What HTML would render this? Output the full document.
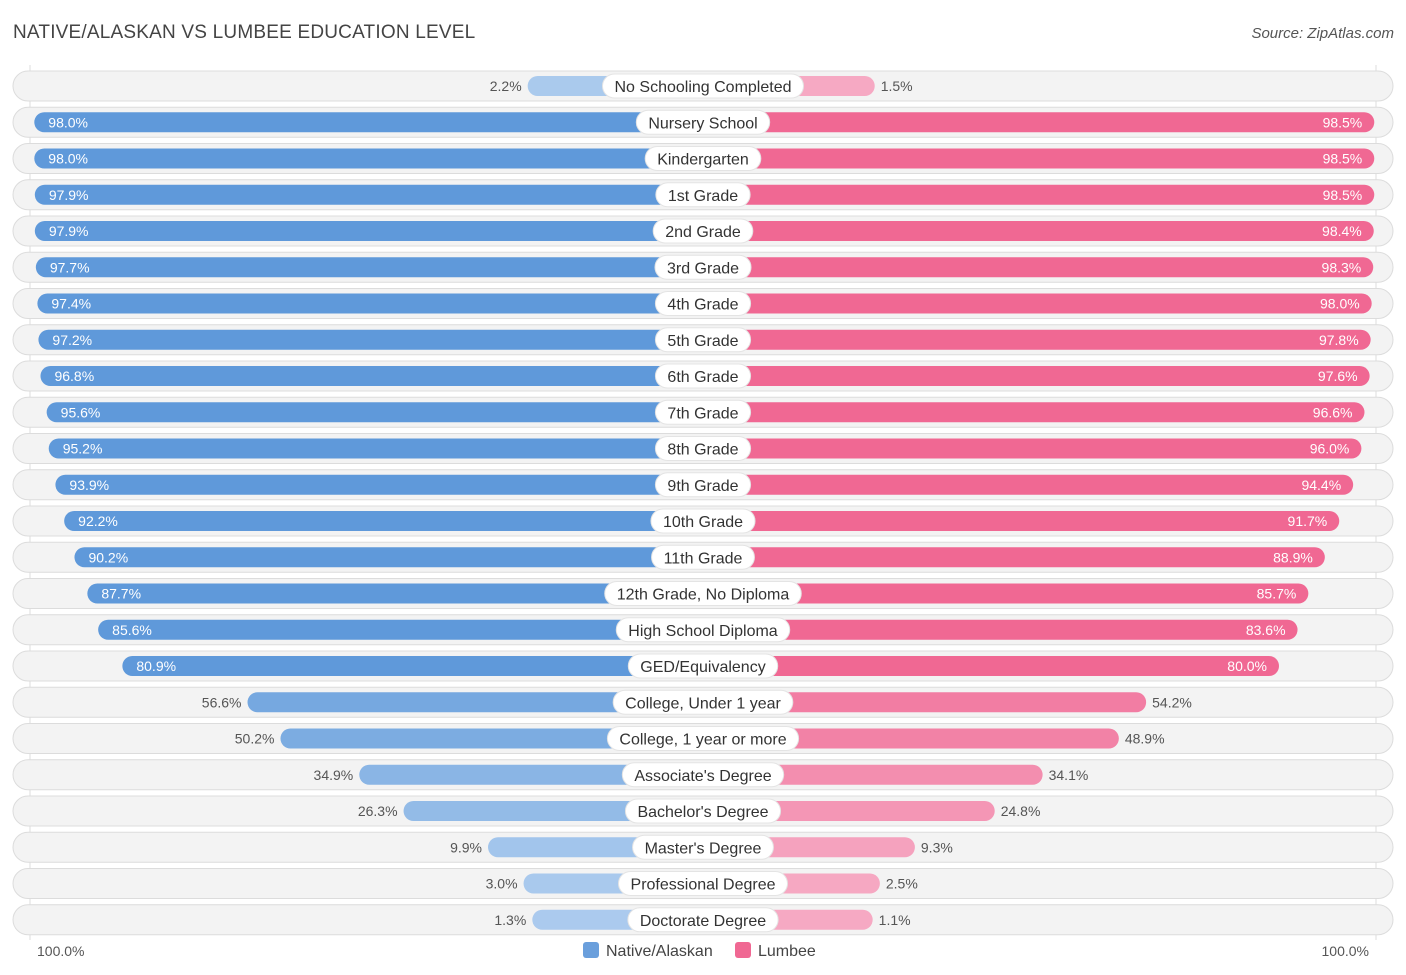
<!DOCTYPE html>
<html><head><meta charset="utf-8"><style>
body{margin:0;background:#fff;font-family:"Liberation Sans",sans-serif;}
#wrap{position:relative;width:1406px;height:975px;overflow:hidden}
.title{position:absolute;left:13px;top:22px;font-size:19px;color:#444;letter-spacing:0.2px}
.src{position:absolute;right:12px;top:25px;font-size:15px;color:#555;font-style:italic}
</style></head><body>
<div id="wrap">
<div class="title">NATIVE/ALASKAN VS LUMBEE EDUCATION LEVEL</div>
<div class="src">Source: ZipAtlas.com</div>
<svg id="svg" width="1406" height="975" style="position:absolute;left:0;top:0"></svg>
</div>
<script>
const categories=["No Schooling Completed","Nursery School","Kindergarten","1st Grade","2nd Grade","3rd Grade","4th Grade","5th Grade","6th Grade","7th Grade","8th Grade","9th Grade","10th Grade","11th Grade","12th Grade, No Diploma","High School Diploma","GED/Equivalency","College, Under 1 year","College, 1 year or more","Associate's Degree","Bachelor's Degree","Master's Degree","Professional Degree","Doctorate Degree"];
const nativeVals=[2.2,98.0,98.0,97.9,97.9,97.7,97.4,97.2,96.8,95.6,95.2,93.9,92.2,90.2,87.7,85.6,80.9,56.6,50.2,34.9,26.3,9.9,3.0,1.3];
const lumbeeVals=[1.5,98.5,98.5,98.5,98.4,98.3,98.0,97.8,97.6,96.6,96.0,94.4,91.7,88.9,85.7,83.6,80.0,54.2,48.9,34.1,24.8,9.3,2.5,1.1];
const axisLabels=["100.0%","100.0%"];
const NS="http://www.w3.org/2000/svg";
const svg=document.getElementById('svg');
const cx=703,off=164,k=5.15,y0=86,dy=36.25;
function xL(v){return cx-off-k*v;}
function xR(v){return cx+off+k*v;}
function yRow(i){return y0+i*dy;}
function mk(t,a,p){const e=document.createElementNS(NS,t);for(const q in a)e.setAttribute(q,a[q]);(p||svg).appendChild(e);return e;}
function mix(c1,c2,t){return 'rgb('+c1.map((c,j)=>Math.round(c+(c2[j]-c)*t)).join(',')+')';}
const bL=[172,203,238],bS=[95,153,218],pL=[246,170,196],pS=[240,104,147];
mk('line',{x1:30,y1:65,x2:30,y2:940,stroke:'#ddd'});
mk('line',{x1:1376,y1:65,x2:1376,y2:940,stroke:'#ddd'});
categories.forEach((c,i)=>{
  const y=yRow(i);
  const g=mk('g',{});
  
  
  const bg=mk('rect',{x:13,y:y-15,width:1380,height:30,rx:15,fill:'#f3f3f3',stroke:'#dcdcdc'},g);
  
  
  const nv=nativeVals[i],lv=lumbeeVals[i];
  const tn=Math.min(1,nv/80),tl=Math.min(1,lv/80);
  const b1=mk('rect',{x:xL(nv),y:y-10,width:cx-xL(nv),height:20,rx:10,fill:mix(bL,bS,tn)},g);
  
  
  const b2=mk('rect',{x:cx,y:y-10,width:xR(lv)-cx,height:20,rx:10,fill:mix(pL,pS,tl)},g);
  
  
  const inside=nv>70;
  const t1=mk('text',{x:inside?xL(nv)+14:xL(nv)-6,y:y+5,'font-size':14,fill:inside?'#fff':'#555','text-anchor':inside?'start':'end'},g);
  t1.textContent=nv.toFixed(1)+'%';
  
  
  const in2=lv>70;
  const t2=mk('text',{x:in2?xR(lv)-12:xR(lv)+6,y:y+5,'font-size':14,fill:in2?'#fff':'#555','text-anchor':in2?'end':'start'},g);
  t2.textContent=lv.toFixed(1)+'%';
  
  
  const lab=mk('text',{x:cx,y:y+6,'font-size':16,fill:'#333','text-anchor':'middle'},g);
  lab.textContent=c;
  
  
  const w=lab.getComputedTextLength()+24;
  const pill=mk('rect',{x:cx-w/2,y:y-12,width:w,height:24,rx:12,fill:'#fff',stroke:'#e4e4e4'},g);
  
  
  g.insertBefore(pill,lab);
});
const a1=mk('text',{x:37,y:956,'font-size':14,fill:'#555'});a1.textContent=axisLabels[0];


const a2=mk('text',{x:1369,y:956,'font-size':14,fill:'#555','text-anchor':'end'});a2.textContent=axisLabels[1];


const r1=mk('rect',{x:583,y:942,width:16,height:16,rx:3,fill:'#6a9fdc'});


const l1=mk('text',{x:606,y:956,'font-size':16,fill:'#444'});l1.textContent='Native/Alaskan';


const r2=mk('rect',{x:735,y:942,width:16,height:16,rx:3,fill:'#f06893'});


const l2=mk('text',{x:758,y:956,'font-size':16,fill:'#444'});l2.textContent='Lumbee';


</script>
</body></html>
